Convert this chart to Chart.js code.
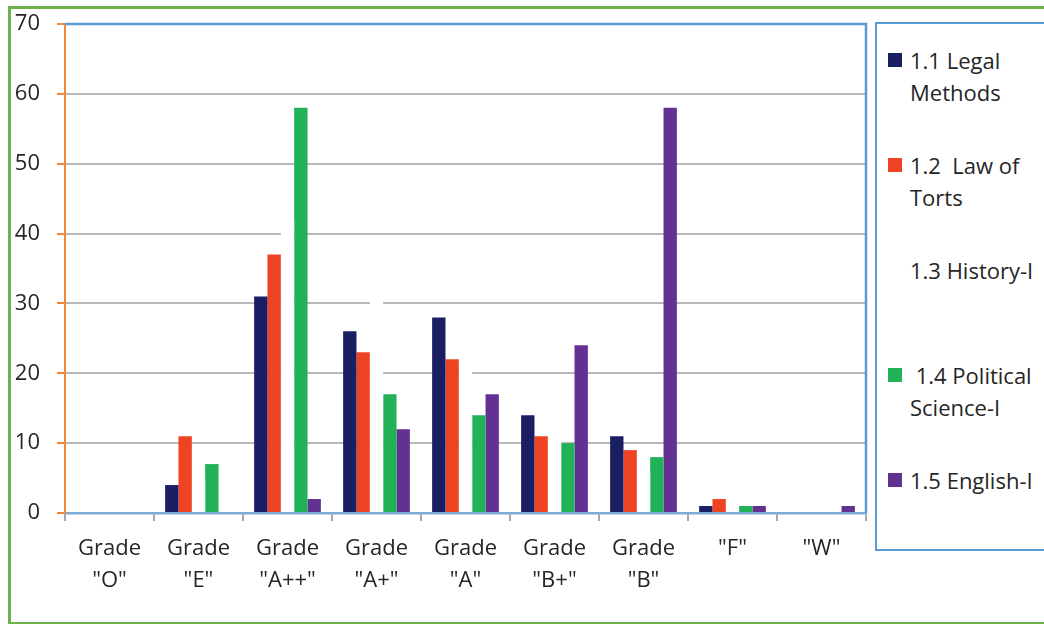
<!DOCTYPE html>
<html>
<head>
<meta charset="utf-8">
<script src="https://cdn.jsdelivr.net/npm/chart.js@4"></script>
<style>
  body { margin: 0; background: #fff; overflow: hidden; }
  #frame { position: absolute; left: 8px; top: 6px; width: 1100px; height: 613px; border: 3px solid #6cb24f; }
  #wrap { position: absolute; left: 0; top: 0; width: 870px; height: 624px; }
  #legend { position: absolute; left: 875px; top: 22px; width: 220px; height: 525px; border: 2px solid #5b9bd5; }
  .item { position: absolute; left: 0; font: 22px "Open Sans", sans-serif; line-height: 32px; color: #262626; white-space: pre; }
  .sw { position: absolute; left: 11px; top: 9px; width: 14px; height: 14px; }
  .txt { position: absolute; left: 33px; top: 0; }
</style>
</head>
<body>
<div id="frame"></div>
<div id="wrap"><canvas id="gradeChart"></canvas></div>
<div id="legend"></div>
<script>
// Categories and series
const grades = [["Grade", "\"O\""], ["Grade", "\"E\""], ["Grade", "\"A++\""], ["Grade", "\"A+\""], ["Grade", "\"A\""],
                ["Grade", "\"B+\""], ["Grade", "\"B\""], ["\"F\""], ["\"W\""]];
const seriesLines = [["1.1 Legal", "Methods"], ["1.2  Law of", "Torts"], ["1.3 History-I"], [" 1.4 Political", "Science-I"], ["1.5 English-I"]];
const seriesColors = ["#1a1f63", "#ef4424", "#ffffff", "#21b157", "#633192"];
const legalMethods = [0, 4, 31, 26, 28, 14, 11, 1, 0];
const lawOfTorts = [0, 11, 37, 23, 22, 11, 9, 2, 0];
const historyI = [0, 5, 42, 33, 23, 13, 6, 0, 0]; // white bars, only visible where they cut gridlines
const politicalScience = [0, 7, 58, 17, 14, 10, 8, 1, 0];
const englishI = [0, 0, 2, 12, 17, 24, 58, 1, 1];
const yTicks = [0, 10, 20, 30, 40, 50, 60, 70];

const seriesData = [legalMethods, lawOfTorts, historyI, politicalScience, englishI];

// top + right edge of the plot area in blue
const plotFrame = {
  id: "plotFrame",
  afterDraw(chart) {
    const a = chart.chartArea, ctx = chart.ctx;
    ctx.save();
    ctx.strokeStyle = "#5b9bd5";
    ctx.lineWidth = 2.5;
    ctx.beginPath();
    ctx.moveTo(a.left, a.top);
    ctx.lineTo(a.right, a.top);
    ctx.lineTo(a.right, a.bottom);
    ctx.stroke();
    ctx.restore();
  }
};

const font = { family: "'Open Sans', sans-serif", size: 22 };

const chart = new Chart(document.getElementById("gradeChart"), {
  type: "bar",
  data: {
    labels: grades,
    datasets: seriesData.map((d, i) => ({
      label: seriesLines[i].join(" ").trim(),
      data: d,
      backgroundColor: seriesColors[i],
      categoryPercentage: 0.75,
      barPercentage: 1.0
    }))
  },
  options: {
    responsive: true,
    maintainAspectRatio: false,
    animation: false,
    layout: { padding: { top: 24, right: 4, bottom: 0, left: 0 } },
    scales: {
      x: {
        afterFit: (s) => { s.height = 111; },
        grid: { drawOnChartArea: false, tickLength: 8, tickColor: "#a6a6a6", lineWidth: 2 },
        border: { color: "#7eaad6", width: 2.5 },
        ticks: { font: { ...font, lineHeight: 1.45 }, color: "#262626", padding: 12, maxRotation: 0, autoSkip: false }
      },
      y: {
        min: 0,
        max: 70,
        afterFit: (s) => { s.width = 65; s.paddingTop = 0; s.paddingBottom = 0; },
        afterBuildTicks: (s) => { s.ticks = yTicks.map(v => ({ value: v })); },
        grid: { color: "#b8b8b8", lineWidth: 2, tickLength: 8, tickColor: "#f0883a" },
        border: { color: "#f0883a", width: 2 },
        ticks: { font: font, color: "#262626", padding: 17 }
      }
    },
    plugins: {
      legend: { display: false },
      tooltip: { enabled: false }
    }
  },
  plugins: [plotFrame]
});

// HTML legend built from the datasets
const legend = document.getElementById("legend");
chart.data.datasets.forEach((ds, i) => {
  const item = document.createElement("div");
  item.className = "item";
  item.style.top = (20 + 105 * i) + "px";
  const sw = document.createElement("div");
  sw.className = "sw";
  sw.style.background = ds.backgroundColor;
  const txt = document.createElement("div");
  txt.className = "txt";
  txt.textContent = seriesLines[i].join("\n");
  item.appendChild(sw);
  item.appendChild(txt);
  legend.appendChild(item);
});
</script>
</body>
</html>
